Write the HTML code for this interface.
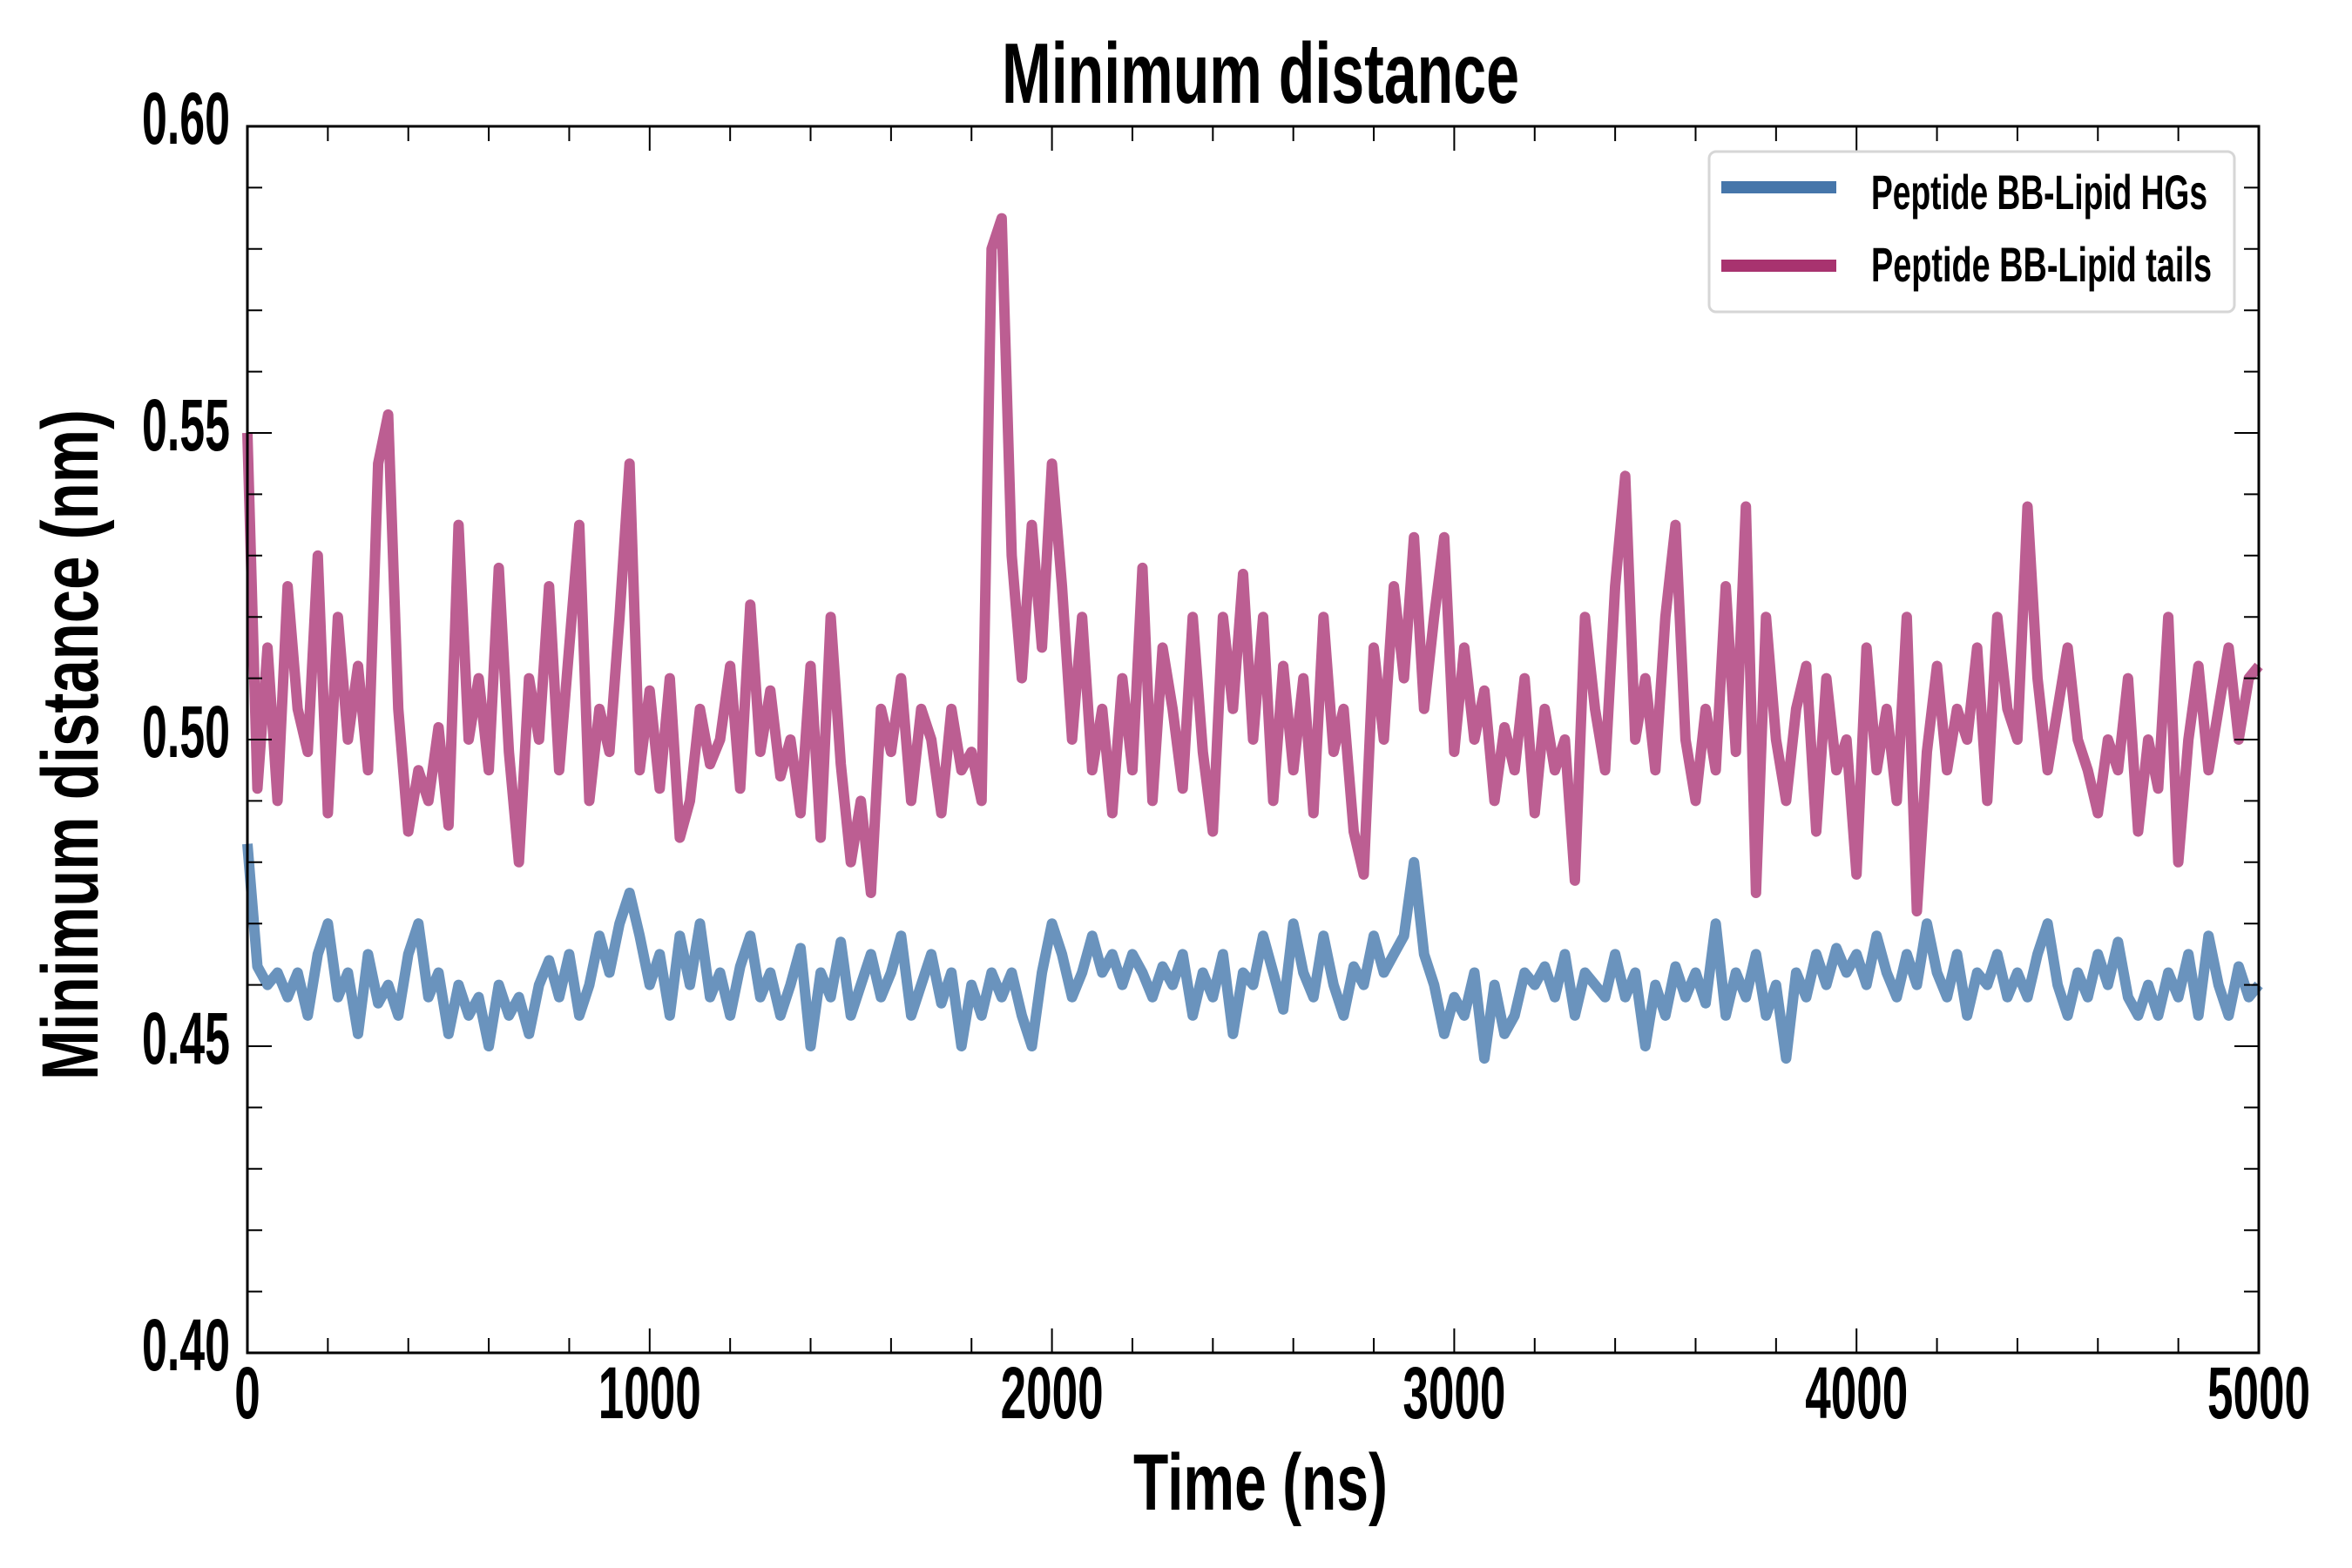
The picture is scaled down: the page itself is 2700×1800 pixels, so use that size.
<!DOCTYPE html>
<html><head><meta charset="utf-8"><style>
html,body{margin:0;padding:0;background:#fff;}
svg{display:block;}
text{font-family:"Liberation Sans Narrow","Liberation Sans",sans-serif;font-weight:bold;fill:#000;}
</style></head><body>
<svg id="chart" width="2700" height="1800" viewBox="0 0 2700 1800" xmlns="http://www.w3.org/2000/svg">
<text x="1447" y="118" font-size="98" text-anchor="middle" textLength="594" lengthAdjust="spacingAndGlyphs">Minimum distance</text>
<text x="1447" y="1733" font-size="92" text-anchor="middle" textLength="292" lengthAdjust="spacingAndGlyphs">Time (ns)</text>
<text x="0" y="0" font-size="92" text-anchor="middle" textLength="770" lengthAdjust="spacingAndGlyphs" transform="translate(112,855) rotate(-90)">Minimum distance (nm)</text>
<g id="series"></g>
<g id="axes"></g>
<g>
<rect x="1962" y="174" width="603" height="184" rx="8" fill="#fff" stroke="#d6d6d6" stroke-width="3"/>
<line x1="1976" y1="215" x2="2108" y2="215" stroke="#4676aa" stroke-width="14"/>
<text x="2148" y="240" font-size="56" textLength="386" lengthAdjust="spacingAndGlyphs">Peptide BB-Lipid HGs</text>
<line x1="1976" y1="305" x2="2108" y2="305" stroke="#a8336f" stroke-width="14"/>
<text x="2148" y="323" font-size="56" textLength="391" lengthAdjust="spacingAndGlyphs">Peptide BB-Lipid tails</text>
</g>
</svg>
<script>
const timeStep = 25;
const xTicks = [0, 1000, 2000, 3000, 4000, 5000];
const yTicks = [0.40, 0.45, 0.50, 0.55, 0.60];
const yTickLabels = ["0.40", "0.45", "0.50", "0.55", "0.60"];
const tailsValues = [
0.550,0.492,0.515,0.490,0.525,0.505,0.498,0.530,
0.488,0.520,0.500,0.512,0.495,0.545,0.553,0.505,
0.485,0.495,0.490,0.502,0.486,0.535,0.500,0.510,
0.495,0.528,0.498,0.480,0.510,0.500,0.525,0.495,
0.515,0.535,0.490,0.505,0.498,0.520,0.545,0.495,
0.508,0.492,0.510,0.484,0.490,0.505,0.496,0.500,
0.512,0.492,0.522,0.498,0.508,0.494,0.500,0.488,
0.512,0.484,0.520,0.496,0.480,0.490,0.475,0.505,
0.498,0.510,0.490,0.505,0.500,0.488,0.505,0.495,
0.498,0.490,0.580,0.585,0.530,0.510,0.535,0.515,
0.545,0.525,0.500,0.520,0.495,0.505,0.488,0.510,
0.495,0.528,0.490,0.515,0.505,0.492,0.520,0.498,
0.485,0.520,0.505,0.527,0.500,0.520,0.490,0.512,
0.495,0.510,0.488,0.520,0.498,0.505,0.485,0.478,
0.515,0.500,0.525,0.510,0.533,0.505,0.520,0.533,
0.498,0.515,0.500,0.508,0.490,0.502,0.495,0.510,
0.488,0.505,0.495,0.500,0.477,0.520,0.505,0.495,
0.525,0.543,0.500,0.510,0.495,0.520,0.535,0.500,
0.490,0.505,0.495,0.525,0.498,0.538,0.475,0.520,
0.500,0.490,0.505,0.512,0.485,0.510,0.495,0.500,
0.478,0.515,0.495,0.505,0.490,0.520,0.472,0.498,
0.512,0.495,0.505,0.500,0.515,0.490,0.520,0.505,
0.500,0.538,0.510,0.495,0.505,0.515,0.500,0.495,
0.488,0.500,0.495,0.510,0.485,0.500,0.492,0.520,
0.480,0.500,0.512,0.495,0.505,0.515,0.500,0.510,
0.512];
const hgsValues = [
0.483,0.463,0.460,0.462,0.458,0.462,0.455,0.465,
0.470,0.458,0.462,0.452,0.465,0.457,0.460,0.455,
0.465,0.470,0.458,0.462,0.452,0.460,0.455,0.458,
0.450,0.460,0.455,0.458,0.452,0.460,0.464,0.458,
0.465,0.455,0.460,0.468,0.462,0.470,0.475,0.468,
0.460,0.465,0.455,0.468,0.460,0.470,0.458,0.462,
0.455,0.463,0.468,0.458,0.462,0.455,0.460,0.466,
0.450,0.462,0.458,0.467,0.455,0.460,0.465,0.458,
0.462,0.468,0.455,0.460,0.465,0.457,0.462,0.450,
0.460,0.455,0.462,0.458,0.462,0.455,0.450,0.462,
0.470,0.465,0.458,0.462,0.468,0.462,0.465,0.460,
0.465,0.462,0.458,0.463,0.460,0.465,0.455,0.462,
0.458,0.465,0.452,0.462,0.460,0.468,0.462,0.456,
0.470,0.462,0.458,0.468,0.460,0.455,0.463,0.460,
0.468,0.462,0.465,0.468,0.480,0.465,0.460,0.452,
0.458,0.455,0.462,0.448,0.460,0.452,0.455,0.462,
0.460,0.463,0.458,0.465,0.455,0.462,0.460,0.458,
0.465,0.458,0.462,0.450,0.460,0.455,0.463,0.458,
0.462,0.457,0.470,0.455,0.462,0.458,0.465,0.455,
0.460,0.448,0.462,0.458,0.465,0.460,0.466,0.462,
0.465,0.460,0.468,0.462,0.458,0.465,0.460,0.470,
0.462,0.458,0.465,0.455,0.462,0.460,0.465,0.458,
0.462,0.458,0.465,0.470,0.460,0.455,0.462,0.458,
0.465,0.460,0.467,0.458,0.455,0.460,0.455,0.462,
0.458,0.465,0.455,0.468,0.460,0.455,0.463,0.458,
0.460];

const L = 284, R = 2593, T = 145, B = 1553;
const X0 = 0, X1 = 5000, Y0 = 0.40, Y1 = 0.60;
function xScale(v){ return L + (v - X0) / (X1 - X0) * (R - L); }
function yScale(v){ return B - (v - Y0) / (Y1 - Y0) * (B - T); }
const NS = "http://www.w3.org/2000/svg";
const seriesG = document.getElementById('series');
const axesG = document.getElementById('axes');

function drawSeries(vals, color, name){
  const pts = vals.map((v, i) => xScale(i * timeStep).toFixed(1) + ',' + yScale(v).toFixed(1)).join(' ');
  const pl = document.createElementNS(NS, 'polyline');
  
  
  pl.setAttribute('points', pts);
  pl.setAttribute('fill', 'none');
  pl.setAttribute('stroke', color);
  pl.setAttribute('stroke-width', '12');
  pl.setAttribute('stroke-linejoin', 'round');
  seriesG.appendChild(pl);
}
drawSeries(hgsValues, '#6a93bd', 'series-lipid-hgs');
drawSeries(tailsValues, '#bc5e92', 'series-lipid-tails');

function mkLine(x1, y1, x2, y2, w, name){
  const l = document.createElementNS(NS, 'line');
  
  
  l.setAttribute('x1', x1); l.setAttribute('y1', y1);
  l.setAttribute('x2', x2); l.setAttribute('y2', y2);
  l.setAttribute('stroke', '#000'); l.setAttribute('stroke-width', w);
  axesG.appendChild(l);
}
const fr = document.createElementNS(NS, 'rect');


fr.setAttribute('x', L); fr.setAttribute('y', T);
fr.setAttribute('width', R - L); fr.setAttribute('height', B - T);
fr.setAttribute('fill', 'none'); fr.setAttribute('stroke', '#000'); fr.setAttribute('stroke-width', '3');
axesG.appendChild(fr);

for (let v = 0; v <= 5000; v += 200) {
  const x = xScale(v);
  const major = v % 1000 === 0;
  const len = major ? 28 : 17;
  mkLine(x, B, x, B - len, 2, 'x-tick');
  mkLine(x, T, x, T + len, 2, 'x-tick-top');
}
xTicks.forEach(v => {
  const t = document.createElementNS(NS, 'text');
  
  
  t.setAttribute('x', xScale(v)); t.setAttribute('y', 1628);
  t.setAttribute('font-size', '84'); t.setAttribute('text-anchor', 'middle');
  const s = String(v);
  t.setAttribute('textLength', s.length * 29.5);
  t.setAttribute('lengthAdjust', 'spacingAndGlyphs');
  t.textContent = s;
  axesG.appendChild(t);
});
for (let k = 0; k <= 20; k++) {
  const v = 0.40 + k * 0.01;
  const y = yScale(v);
  const major = k % 5 === 0;
  const len = major ? 28 : 17;
  mkLine(L, y, L + len, y, 2, 'y-tick');
  mkLine(R, y, R - len, y, 2, 'y-tick-right');
}
yTicks.forEach((v, i) => {
  const t = document.createElementNS(NS, 'text');
  
  
  t.setAttribute('x', 264); t.setAttribute('y', yScale(v) + 20);
  t.setAttribute('font-size', '84'); t.setAttribute('text-anchor', 'end');
  t.setAttribute('textLength', 101);
  t.setAttribute('lengthAdjust', 'spacingAndGlyphs');
  t.textContent = yTickLabels[i];
  axesG.appendChild(t);
});
</script>
</body></html>
